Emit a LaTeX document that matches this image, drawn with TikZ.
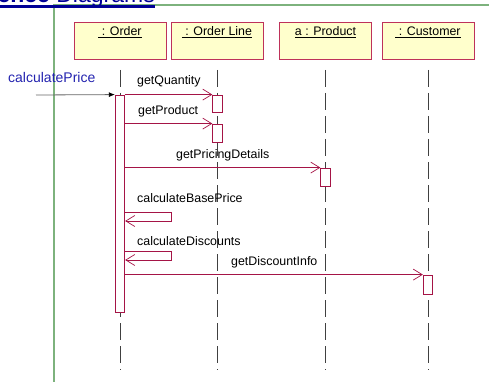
\documentclass[tikz,border=0pt]{standalone}
\usepackage{fontspec}
\setmainfont{Liberation Sans}
\usetikzlibrary{arrows.meta}
\definecolor{frameg}{RGB}{125,178,125}
\definecolor{titleblue}{RGB}{0,0,150}
\definecolor{callblue}{RGB}{35,35,175}
\definecolor{headred}{RGB}{190,50,90}
\definecolor{headfill}{RGB}{255,255,204}
\definecolor{msgred}{RGB}{165,20,70}

\begin{document}
\begin{tikzpicture}[x=1pt,y=-1pt,
    head/.style={draw=headred, fill=headfill, line width=0.8pt, minimum width=92pt,
      inner ysep=3pt, text height=11pt, text depth=20pt, font=\fontsize{12.4}{14}\selectfont},
    act/.style={draw=msgred, fill=white, line width=0.8pt, minimum width=9.5pt, inner sep=0pt},
    life/.style={draw=black!75, line width=0.9pt, dash pattern=on 17pt off 6pt},
    msg/.style={draw=msgred, line width=0.7pt, -{Straight Barb[length=9pt,width=11pt]}},
    found/.style={draw=black!60, line width=0.8pt, -{Latex[length=6pt,width=5pt,color=black]}},
    lbl/.style={anchor=base west, inner sep=0pt, font=\fontsize{12.4}{14}\selectfont}]
            \useasboundingbox (0,0) rectangle (489,382);
            \clip (0,0) rectangle (489,382);
            % frame and title
            \draw[frameg, line width=1.5pt] (54,382) |- (489,5);
            \draw (155,3) node[anchor=base east, inner sep=0pt, text=titleblue,
                  font=\fontsize{23}{27}\selectfont] (title) {\textbf{Sequence} Diagrams};
            \draw[titleblue, line width=3pt] ([yshift=-3.5pt]title.base west) -- ([yshift=-3.5pt]title.base east);
            % objects
            \draw (120,40.5) node[head] (order) {\underline{\ : Order}};
            \draw (217,40.5) node[head] (oline) {\underline{\ : Order Line}};
            \draw (325.5,40.5) node[head] (prod) {\underline{a : Product}};
            \draw (428,40.5) node[head] (cust) {\underline{\ : Customer}};
            \coordinate (top) at (0,70);
            \coordinate (bot) at (0,370);
            \draw[life] (order |- top) -- (order |- bot)
                  (oline |- top) -- (oline |- bot)
                  (prod |- top) -- (prod |- bot)
                  (cust |- top) -- (cust |- bot);
            % activations
            \draw (120,203.5) node[act, minimum height=217pt] (aorder) {};
            \draw (217.5,103.5) node[act, minimum height=17pt] (aline1) {};
            \draw (217.5,133) node[act, minimum height=18pt] (aline2) {};
            \draw (325.5,177) node[act, minimum height=18pt] (aprod) {};
            \draw (428,284.5) node[act, minimum height=19pt] (acust) {};
            % messages
            \coordinate (caller) at (36,95);
            \draw[found] (caller) -- (aorder.north west);
            \draw (8,83) node[lbl, text=callblue, font=\fontsize{14}{16}\selectfont] (calc) {calculatePrice};
            \draw[msg] (aorder.east |- aline1.north) -- (aline1.north west);
            \draw[msg] (aorder.east |- aline2.north) -- (aline2.north west);
            \draw[msg] (aorder.east |- aprod.north) -- (aprod.north west);
            \draw[msg] (aorder.east |- acust.north) -- (acust.north west);
            \coordinate (bp1) at (171,212);
            \coordinate (bp2) at (171,221);
            \coordinate (dc1) at (171,251);
            \coordinate (dc2) at (171,260);
            \draw[msg] (aorder.east |- bp1) -- (bp1) -- (bp2) -- (aorder.east |- bp2);
            \draw[msg] (aorder.east |- dc1) -- (dc1) -- (dc2) -- (aorder.east |- dc2);
            \draw (137,85) node[lbl] (qty) {getQuantity};
            \draw (138,114.5) node[lbl] (getprod) {getProduct};
            \draw (176,158) node[lbl] (pricing) {getPricingDetails};
            \draw (137,202) node[lbl] (base) {calculateBasePrice};
            \draw (137,245) node[lbl] (disc) {calculateDiscounts};
            \draw (231,265.5) node[lbl] (info) {getDiscountInfo};
        \end{tikzpicture}
\end{document}
